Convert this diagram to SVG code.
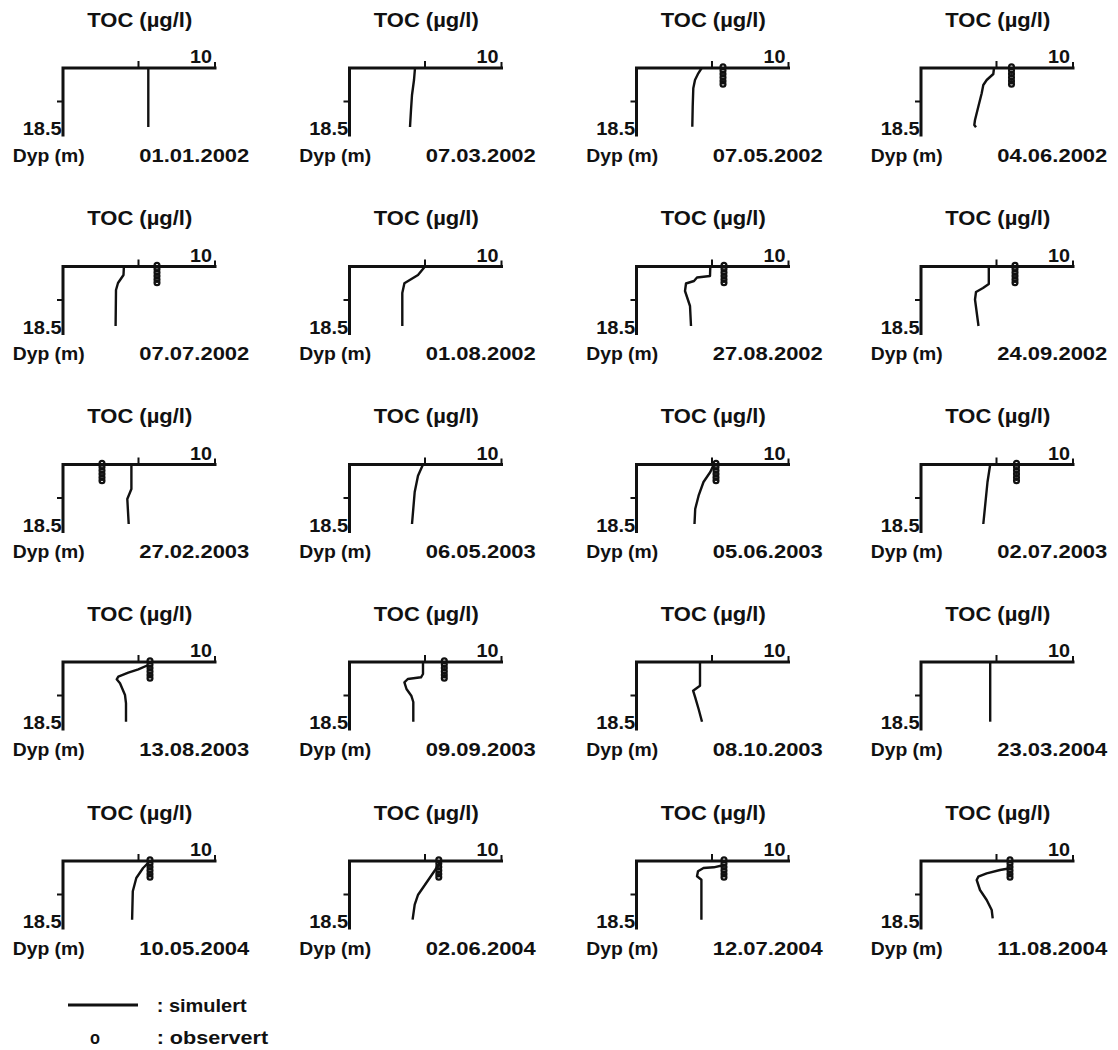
<svg xmlns="http://www.w3.org/2000/svg" xmlns:xlink="http://www.w3.org/1999/xlink" width="1118" height="1050" viewBox="0 0 1118 1050">
<style>
text{font-family:"Liberation Sans",Arial,sans-serif;font-weight:bold;fill:#111}
.t{font-size:21px}
.l{font-size:19px}
.ax{fill:none;stroke:#111;stroke-width:3;stroke-linecap:square}
.tk{fill:none;stroke:#111;stroke-width:2}
.sim{fill:none;stroke:#111;stroke-width:2.4;stroke-linejoin:round;stroke-linecap:butt}
.obs circle{fill:none;stroke:#111;stroke-width:2.3}
</style>
<defs>
<g id="axes">
<path class="ax" d="M0,67 V0 H152"/>
<path class="tk" d="M75.5,0 V-7 M152,0 V-6 M-6,33.5 H0"/>
</g>
<g id="obs" class="obs">
<circle cx="0" cy="-1.2" r="2.4"/>
<circle cx="0" cy="2.5" r="2.4"/>
<circle cx="0" cy="6" r="2.4"/>
<circle cx="0" cy="9.5" r="2.4"/>
<circle cx="0" cy="13" r="2.4"/>
<circle cx="0" cy="16.2" r="2.4"/>
</g>
</defs>
<rect width="1118" height="1050" fill="#fff"/>

<g id="panel-1" transform="translate(63,68)">
<use xlink:href="#axes"/>
<text class="t" x="24.3" y="-41.3" textLength="105" lengthAdjust="spacingAndGlyphs">TOC (µg/l)</text>
<text class="l" x="127" y="-4.7" textLength="22" lengthAdjust="spacingAndGlyphs">10</text>
<text class="l" x="-40.3" y="67" textLength="39" lengthAdjust="spacingAndGlyphs">18.5</text>
<text class="l" x="-50.3" y="93.5" textLength="72" lengthAdjust="spacingAndGlyphs">Dyp (m)</text>
<text class="l" x="76.3" y="93.5" textLength="110" lengthAdjust="spacingAndGlyphs">01.01.2002</text>
</g>
<g id="panel-2" transform="translate(349.5,68)">
<use xlink:href="#axes"/>
<text class="t" x="24.3" y="-41.3" textLength="105" lengthAdjust="spacingAndGlyphs">TOC (µg/l)</text>
<text class="l" x="127" y="-4.7" textLength="22" lengthAdjust="spacingAndGlyphs">10</text>
<text class="l" x="-40.3" y="67" textLength="39" lengthAdjust="spacingAndGlyphs">18.5</text>
<text class="l" x="-50.3" y="93.5" textLength="72" lengthAdjust="spacingAndGlyphs">Dyp (m)</text>
<text class="l" x="76.3" y="93.5" textLength="110" lengthAdjust="spacingAndGlyphs">07.03.2002</text>
</g>
<g id="panel-3" transform="translate(636.5,68)">
<use xlink:href="#axes"/>
<text class="t" x="24.3" y="-41.3" textLength="105" lengthAdjust="spacingAndGlyphs">TOC (µg/l)</text>
<text class="l" x="127" y="-4.7" textLength="22" lengthAdjust="spacingAndGlyphs">10</text>
<text class="l" x="-40.3" y="67" textLength="39" lengthAdjust="spacingAndGlyphs">18.5</text>
<text class="l" x="-50.3" y="93.5" textLength="72" lengthAdjust="spacingAndGlyphs">Dyp (m)</text>
<text class="l" x="76.3" y="93.5" textLength="110" lengthAdjust="spacingAndGlyphs">07.05.2002</text>
</g>
<g id="panel-4" transform="translate(921,68)">
<use xlink:href="#axes"/>
<text class="t" x="24.3" y="-41.3" textLength="105" lengthAdjust="spacingAndGlyphs">TOC (µg/l)</text>
<text class="l" x="127" y="-4.7" textLength="22" lengthAdjust="spacingAndGlyphs">10</text>
<text class="l" x="-40.3" y="67" textLength="39" lengthAdjust="spacingAndGlyphs">18.5</text>
<text class="l" x="-50.3" y="93.5" textLength="72" lengthAdjust="spacingAndGlyphs">Dyp (m)</text>
<text class="l" x="76.3" y="93.5" textLength="110" lengthAdjust="spacingAndGlyphs">04.06.2002</text>
</g>

<g id="panel-5" transform="translate(63,266.5)">
<use xlink:href="#axes"/>
<text class="t" x="24.3" y="-41.3" textLength="105" lengthAdjust="spacingAndGlyphs">TOC (µg/l)</text>
<text class="l" x="127" y="-4.7" textLength="22" lengthAdjust="spacingAndGlyphs">10</text>
<text class="l" x="-40.3" y="67" textLength="39" lengthAdjust="spacingAndGlyphs">18.5</text>
<text class="l" x="-50.3" y="93.5" textLength="72" lengthAdjust="spacingAndGlyphs">Dyp (m)</text>
<text class="l" x="76.3" y="93.5" textLength="110" lengthAdjust="spacingAndGlyphs">07.07.2002</text>
</g>
<g id="panel-6" transform="translate(349.5,266.5)">
<use xlink:href="#axes"/>
<text class="t" x="24.3" y="-41.3" textLength="105" lengthAdjust="spacingAndGlyphs">TOC (µg/l)</text>
<text class="l" x="127" y="-4.7" textLength="22" lengthAdjust="spacingAndGlyphs">10</text>
<text class="l" x="-40.3" y="67" textLength="39" lengthAdjust="spacingAndGlyphs">18.5</text>
<text class="l" x="-50.3" y="93.5" textLength="72" lengthAdjust="spacingAndGlyphs">Dyp (m)</text>
<text class="l" x="76.3" y="93.5" textLength="110" lengthAdjust="spacingAndGlyphs">01.08.2002</text>
</g>
<g id="panel-7" transform="translate(636.5,266.5)">
<use xlink:href="#axes"/>
<text class="t" x="24.3" y="-41.3" textLength="105" lengthAdjust="spacingAndGlyphs">TOC (µg/l)</text>
<text class="l" x="127" y="-4.7" textLength="22" lengthAdjust="spacingAndGlyphs">10</text>
<text class="l" x="-40.3" y="67" textLength="39" lengthAdjust="spacingAndGlyphs">18.5</text>
<text class="l" x="-50.3" y="93.5" textLength="72" lengthAdjust="spacingAndGlyphs">Dyp (m)</text>
<text class="l" x="76.3" y="93.5" textLength="110" lengthAdjust="spacingAndGlyphs">27.08.2002</text>
</g>
<g id="panel-8" transform="translate(921,266.5)">
<use xlink:href="#axes"/>
<text class="t" x="24.3" y="-41.3" textLength="105" lengthAdjust="spacingAndGlyphs">TOC (µg/l)</text>
<text class="l" x="127" y="-4.7" textLength="22" lengthAdjust="spacingAndGlyphs">10</text>
<text class="l" x="-40.3" y="67" textLength="39" lengthAdjust="spacingAndGlyphs">18.5</text>
<text class="l" x="-50.3" y="93.5" textLength="72" lengthAdjust="spacingAndGlyphs">Dyp (m)</text>
<text class="l" x="76.3" y="93.5" textLength="110" lengthAdjust="spacingAndGlyphs">24.09.2002</text>
</g>

<g id="panel-9" transform="translate(63,464.5)">
<use xlink:href="#axes"/>
<text class="t" x="24.3" y="-41.3" textLength="105" lengthAdjust="spacingAndGlyphs">TOC (µg/l)</text>
<text class="l" x="127" y="-4.7" textLength="22" lengthAdjust="spacingAndGlyphs">10</text>
<text class="l" x="-40.3" y="67" textLength="39" lengthAdjust="spacingAndGlyphs">18.5</text>
<text class="l" x="-50.3" y="93.5" textLength="72" lengthAdjust="spacingAndGlyphs">Dyp (m)</text>
<text class="l" x="76.3" y="93.5" textLength="110" lengthAdjust="spacingAndGlyphs">27.02.2003</text>
</g>
<g id="panel-10" transform="translate(349.5,464.5)">
<use xlink:href="#axes"/>
<text class="t" x="24.3" y="-41.3" textLength="105" lengthAdjust="spacingAndGlyphs">TOC (µg/l)</text>
<text class="l" x="127" y="-4.7" textLength="22" lengthAdjust="spacingAndGlyphs">10</text>
<text class="l" x="-40.3" y="67" textLength="39" lengthAdjust="spacingAndGlyphs">18.5</text>
<text class="l" x="-50.3" y="93.5" textLength="72" lengthAdjust="spacingAndGlyphs">Dyp (m)</text>
<text class="l" x="76.3" y="93.5" textLength="110" lengthAdjust="spacingAndGlyphs">06.05.2003</text>
</g>
<g id="panel-11" transform="translate(636.5,464.5)">
<use xlink:href="#axes"/>
<text class="t" x="24.3" y="-41.3" textLength="105" lengthAdjust="spacingAndGlyphs">TOC (µg/l)</text>
<text class="l" x="127" y="-4.7" textLength="22" lengthAdjust="spacingAndGlyphs">10</text>
<text class="l" x="-40.3" y="67" textLength="39" lengthAdjust="spacingAndGlyphs">18.5</text>
<text class="l" x="-50.3" y="93.5" textLength="72" lengthAdjust="spacingAndGlyphs">Dyp (m)</text>
<text class="l" x="76.3" y="93.5" textLength="110" lengthAdjust="spacingAndGlyphs">05.06.2003</text>
</g>
<g id="panel-12" transform="translate(921,464.5)">
<use xlink:href="#axes"/>
<text class="t" x="24.3" y="-41.3" textLength="105" lengthAdjust="spacingAndGlyphs">TOC (µg/l)</text>
<text class="l" x="127" y="-4.7" textLength="22" lengthAdjust="spacingAndGlyphs">10</text>
<text class="l" x="-40.3" y="67" textLength="39" lengthAdjust="spacingAndGlyphs">18.5</text>
<text class="l" x="-50.3" y="93.5" textLength="72" lengthAdjust="spacingAndGlyphs">Dyp (m)</text>
<text class="l" x="76.3" y="93.5" textLength="110" lengthAdjust="spacingAndGlyphs">02.07.2003</text>
</g>

<g id="panel-13" transform="translate(63,662)">
<use xlink:href="#axes"/>
<text class="t" x="24.3" y="-41.3" textLength="105" lengthAdjust="spacingAndGlyphs">TOC (µg/l)</text>
<text class="l" x="127" y="-4.7" textLength="22" lengthAdjust="spacingAndGlyphs">10</text>
<text class="l" x="-40.3" y="67" textLength="39" lengthAdjust="spacingAndGlyphs">18.5</text>
<text class="l" x="-50.3" y="93.5" textLength="72" lengthAdjust="spacingAndGlyphs">Dyp (m)</text>
<text class="l" x="76.3" y="93.5" textLength="110" lengthAdjust="spacingAndGlyphs">13.08.2003</text>
</g>
<g id="panel-14" transform="translate(349.5,662)">
<use xlink:href="#axes"/>
<text class="t" x="24.3" y="-41.3" textLength="105" lengthAdjust="spacingAndGlyphs">TOC (µg/l)</text>
<text class="l" x="127" y="-4.7" textLength="22" lengthAdjust="spacingAndGlyphs">10</text>
<text class="l" x="-40.3" y="67" textLength="39" lengthAdjust="spacingAndGlyphs">18.5</text>
<text class="l" x="-50.3" y="93.5" textLength="72" lengthAdjust="spacingAndGlyphs">Dyp (m)</text>
<text class="l" x="76.3" y="93.5" textLength="110" lengthAdjust="spacingAndGlyphs">09.09.2003</text>
</g>
<g id="panel-15" transform="translate(636.5,662)">
<use xlink:href="#axes"/>
<text class="t" x="24.3" y="-41.3" textLength="105" lengthAdjust="spacingAndGlyphs">TOC (µg/l)</text>
<text class="l" x="127" y="-4.7" textLength="22" lengthAdjust="spacingAndGlyphs">10</text>
<text class="l" x="-40.3" y="67" textLength="39" lengthAdjust="spacingAndGlyphs">18.5</text>
<text class="l" x="-50.3" y="93.5" textLength="72" lengthAdjust="spacingAndGlyphs">Dyp (m)</text>
<text class="l" x="76.3" y="93.5" textLength="110" lengthAdjust="spacingAndGlyphs">08.10.2003</text>
</g>
<g id="panel-16" transform="translate(921,662)">
<use xlink:href="#axes"/>
<text class="t" x="24.3" y="-41.3" textLength="105" lengthAdjust="spacingAndGlyphs">TOC (µg/l)</text>
<text class="l" x="127" y="-4.7" textLength="22" lengthAdjust="spacingAndGlyphs">10</text>
<text class="l" x="-40.3" y="67" textLength="39" lengthAdjust="spacingAndGlyphs">18.5</text>
<text class="l" x="-50.3" y="93.5" textLength="72" lengthAdjust="spacingAndGlyphs">Dyp (m)</text>
<text class="l" x="76.3" y="93.5" textLength="110" lengthAdjust="spacingAndGlyphs">23.03.2004</text>
</g>

<g id="panel-17" transform="translate(63,861)">
<use xlink:href="#axes"/>
<text class="t" x="24.3" y="-41.3" textLength="105" lengthAdjust="spacingAndGlyphs">TOC (µg/l)</text>
<text class="l" x="127" y="-4.7" textLength="22" lengthAdjust="spacingAndGlyphs">10</text>
<text class="l" x="-40.3" y="67" textLength="39" lengthAdjust="spacingAndGlyphs">18.5</text>
<text class="l" x="-50.3" y="93.5" textLength="72" lengthAdjust="spacingAndGlyphs">Dyp (m)</text>
<text class="l" x="76.3" y="93.5" textLength="110" lengthAdjust="spacingAndGlyphs">10.05.2004</text>
</g>
<g id="panel-18" transform="translate(349.5,861)">
<use xlink:href="#axes"/>
<text class="t" x="24.3" y="-41.3" textLength="105" lengthAdjust="spacingAndGlyphs">TOC (µg/l)</text>
<text class="l" x="127" y="-4.7" textLength="22" lengthAdjust="spacingAndGlyphs">10</text>
<text class="l" x="-40.3" y="67" textLength="39" lengthAdjust="spacingAndGlyphs">18.5</text>
<text class="l" x="-50.3" y="93.5" textLength="72" lengthAdjust="spacingAndGlyphs">Dyp (m)</text>
<text class="l" x="76.3" y="93.5" textLength="110" lengthAdjust="spacingAndGlyphs">02.06.2004</text>
</g>
<g id="panel-19" transform="translate(636.5,861)">
<use xlink:href="#axes"/>
<text class="t" x="24.3" y="-41.3" textLength="105" lengthAdjust="spacingAndGlyphs">TOC (µg/l)</text>
<text class="l" x="127" y="-4.7" textLength="22" lengthAdjust="spacingAndGlyphs">10</text>
<text class="l" x="-40.3" y="67" textLength="39" lengthAdjust="spacingAndGlyphs">18.5</text>
<text class="l" x="-50.3" y="93.5" textLength="72" lengthAdjust="spacingAndGlyphs">Dyp (m)</text>
<text class="l" x="76.3" y="93.5" textLength="110" lengthAdjust="spacingAndGlyphs">12.07.2004</text>
</g>
<g id="panel-20" transform="translate(921,861)">
<use xlink:href="#axes"/>
<text class="t" x="24.3" y="-41.3" textLength="105" lengthAdjust="spacingAndGlyphs">TOC (µg/l)</text>
<text class="l" x="127" y="-4.7" textLength="22" lengthAdjust="spacingAndGlyphs">10</text>
<text class="l" x="-40.3" y="67" textLength="39" lengthAdjust="spacingAndGlyphs">18.5</text>
<text class="l" x="-50.3" y="93.5" textLength="72" lengthAdjust="spacingAndGlyphs">Dyp (m)</text>
<text class="l" x="76.3" y="93.5" textLength="110" lengthAdjust="spacingAndGlyphs">11.08.2004</text>
</g>

<g id="connectors">
<polyline class="sim" transform="translate(63,68)" points="85.3,0 85.3,59"/>
<polyline class="sim" transform="translate(349.5,68)" points="65.5,0 64.5,12 62.5,27 61.5,42 60.5,59"/>
<polyline class="sim" transform="translate(636.5,68)" points="65.2,0 61.8,5.3 58.5,12 56.8,20.3 56.2,38.7 55.8,58.7"/>
<polyline class="sim" transform="translate(921,68)" points="73,0 72.3,6 65.7,12 62.3,17 60.7,25.3 57.3,38.7 54,52 53.3,57 55,59.3"/>
<polyline class="sim" transform="translate(63,266.5)" points="60.9,0 60.5,8.5 55,16.5 53,23.5 52.6,59.5"/>
<polyline class="sim" transform="translate(349.5,266.5)" points="75.5,0 68.5,8.5 54.9,16.8 52.8,26.5 52.8,59.5"/>
<polyline class="sim" transform="translate(636.5,266.5)" points="73.8,0 73.5,9.5 60.5,11 57.5,14.5 49.5,17 48.5,24.5 53.5,39.5 54.5,59.5"/>
<polyline class="sim" transform="translate(921,266.5)" points="67.8,0 67.8,17.5 62,21.5 55,25.5 54,33 57.5,59.5"/>
<polyline class="sim" transform="translate(63,464.5)" points="68.4,0 68.4,24.5 64.3,34.5 65.7,59.5"/>
<polyline class="sim" transform="translate(349.5,464.5)" points="73.5,0 68.5,11.2 65.2,27.5 62.5,59.5"/>
<polyline class="sim" transform="translate(636.5,464.5)" points="77.3,0 73.8,7.5 67,17.5 62.1,31.2 58.7,44.5 58,59.5"/>
<polyline class="sim" transform="translate(921,464.5)" points="69.2,0 66.5,17.5 62.3,59.5"/>
<polyline class="sim" transform="translate(63,662)" points="85.3,3 75.3,7.3 65.3,10.7 55.3,14.7 53.7,17.3 57,21.3 62,33 63,41.3 63,59.7"/>
<polyline class="sim" transform="translate(349.5,662)" points="73.5,0 73.5,12 71.5,15.3 58.3,17 54.9,20.3 57,27 61.8,33.7 63.8,40 63.8,59.7"/>
<polyline class="sim" transform="translate(636.5,662)" points="63.5,0 63.5,23.7 56.6,28.7 58.7,35.3 62.1,47 65.5,59.7"/>
<polyline class="sim" transform="translate(921,662)" points="69.2,0 69.2,59.7"/>
<polyline class="sim" transform="translate(63,861)" points="87,0 80.1,7 73.3,17 69.8,30.3 69.1,58.7"/>
<polyline class="sim" transform="translate(349.5,861)" points="91.3,0 85.8,8.7 75.5,23.7 68.6,33.7 65.2,43.7 63.1,58.7"/>
<polyline class="sim" transform="translate(636.5,861)" points="87.5,4 77.3,6.3 67,7 61.5,10.3 60.5,15.3 64.9,18.7 64.9,58.7"/>
<polyline class="sim" transform="translate(921,861)" points="89,7.3 79,9 65.7,12.3 57.3,15.7 55.7,19 59,29 65.7,39 70.7,49 71.7,57.3"/>
</g>

<g id="observations">
<use xlink:href="#obs" x="723" y="68"/>
<use xlink:href="#obs" x="1011.5" y="68"/>
<use xlink:href="#obs" x="157" y="266.5"/>
<use xlink:href="#obs" x="724" y="266.5"/>
<use xlink:href="#obs" x="1015" y="266.5"/>
<use xlink:href="#obs" x="102" y="464.5"/>
<use xlink:href="#obs" x="716" y="464.5"/>
<use xlink:href="#obs" x="1016.5" y="464.5"/>
<use xlink:href="#obs" x="150" y="662"/>
<use xlink:href="#obs" x="444.3" y="662"/>
<use xlink:href="#obs" x="150" y="861"/>
<use xlink:href="#obs" x="438.8" y="861"/>
<use xlink:href="#obs" x="724" y="861"/>
<use xlink:href="#obs" x="1010" y="861"/>
</g>

<g id="legend">
<line x1="68" y1="1005" x2="138" y2="1005" stroke="#111" stroke-width="3"/>
<text class="l" x="156.7" y="1011.7" textLength="90" lengthAdjust="spacingAndGlyphs">: simulert</text>
<text class="l" x="90" y="1044" textLength="10" lengthAdjust="spacingAndGlyphs">o</text>
<text class="l" x="156.7" y="1044" textLength="111.5" lengthAdjust="spacingAndGlyphs">: observert</text>
</g>
</svg>
